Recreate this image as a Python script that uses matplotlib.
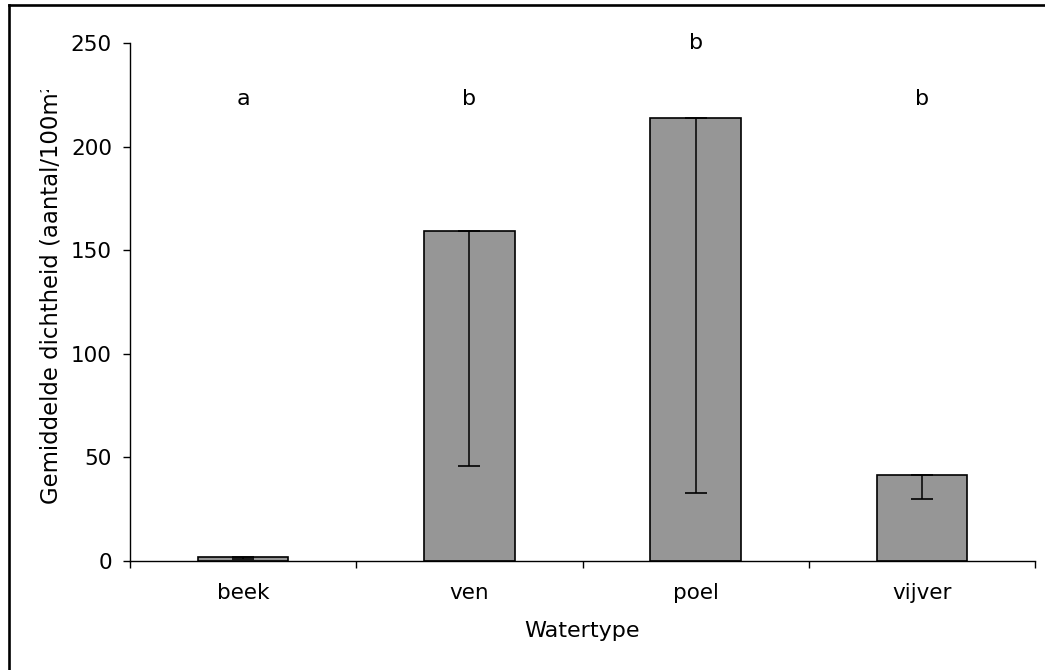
import numpy as np
import matplotlib
matplotlib.use('Agg')
import matplotlib.pyplot as plt
from matplotlib.lines import Line2D
from matplotlib.transforms import Bbox, TransformedBbox

categories = ['beek', 'ven', 'poel', 'vijver']
means = [2.0, 159.5, 214.0, 41.5]
err_low = [1.0, 113.5, 181.0, 11.5]
letters = ['a', 'b', 'b', 'b']
letter_y = [220, 220, 247, 220]

W, H = 1045, 670
FS = 16
FS_TICK = 15.5

plt.rcParams['font.family'] = ['DejaVu Sans']
plt.rcParams['font.size'] = FS

fig = plt.figure(figsize=(W / 100, H / 100), dpi=100)
ax = fig.add_axes([130 / W, 1 - 561 / H, 905 / W, 518 / H])

x = np.arange(len(categories))
ax.bar(x, means, width=0.4, color='#969696', edgecolor='black', linewidth=1.2, zorder=2)
ax.errorbar(x, means, yerr=[err_low, np.zeros(len(means))], fmt='none',
            ecolor='black', elinewidth=1.1, capsize=8, capthick=1.2, zorder=3)

for xi, lab, ly in zip(x, letters, letter_y):
    ax.text(xi, ly, lab, ha='center', va='baseline', fontsize=FS)

ax.set_xlim(-0.5, len(categories) - 0.5)
ax.set_ylim(0, 250)
ax.set_yticks(np.arange(0, 251, 50))

ax.set_xticks(x)
ax.set_xticklabels(categories)
ax.set_xticks(np.arange(-0.5, len(categories), 1.0), minor=True)
ax.tick_params(axis='x', which='major', length=0, pad=16, labelsize=FS_TICK)
ax.tick_params(axis='x', which='minor', length=5, width=1, direction='out')
ax.tick_params(axis='y', length=5, width=1, direction='out', pad=8, labelsize=FS_TICK)

for s in ['top', 'right']:
    ax.spines[s].set_visible(False)
for s in ['left', 'bottom']:
    ax.spines[s].set_linewidth(1)

ax.set_xlabel('Watertype', fontsize=FS)
ax.xaxis.set_label_coords(0.5, -0.116)

# y label, cut off at the top like the original text box
yl = fig.text(58 / W, 1 - 504 / H, 'Gemiddelde dichtheid (aantal/100m²)',
              rotation=90, rotation_mode='anchor', ha='left', va='baseline',
              fontsize=16.4)
clip = TransformedBbox(Bbox([[0, 0], [1, 1 - 90 / H]]), fig.transFigure)
yl.set_clip_box(clip)
yl.set_clip_on(True)

# outer frame (left and top edges)
fig.add_artist(Line2D([8.5 / W, 8.5 / W], [0, 1 - 5 / H], color='black',
                      linewidth=1.9, transform=fig.transFigure))
fig.add_artist(Line2D([8.5 / W, 1], [1 - 5 / H, 1 - 5 / H], color='black',
                      linewidth=1.9, transform=fig.transFigure))

fig.savefig('out.png', dpi=100)
